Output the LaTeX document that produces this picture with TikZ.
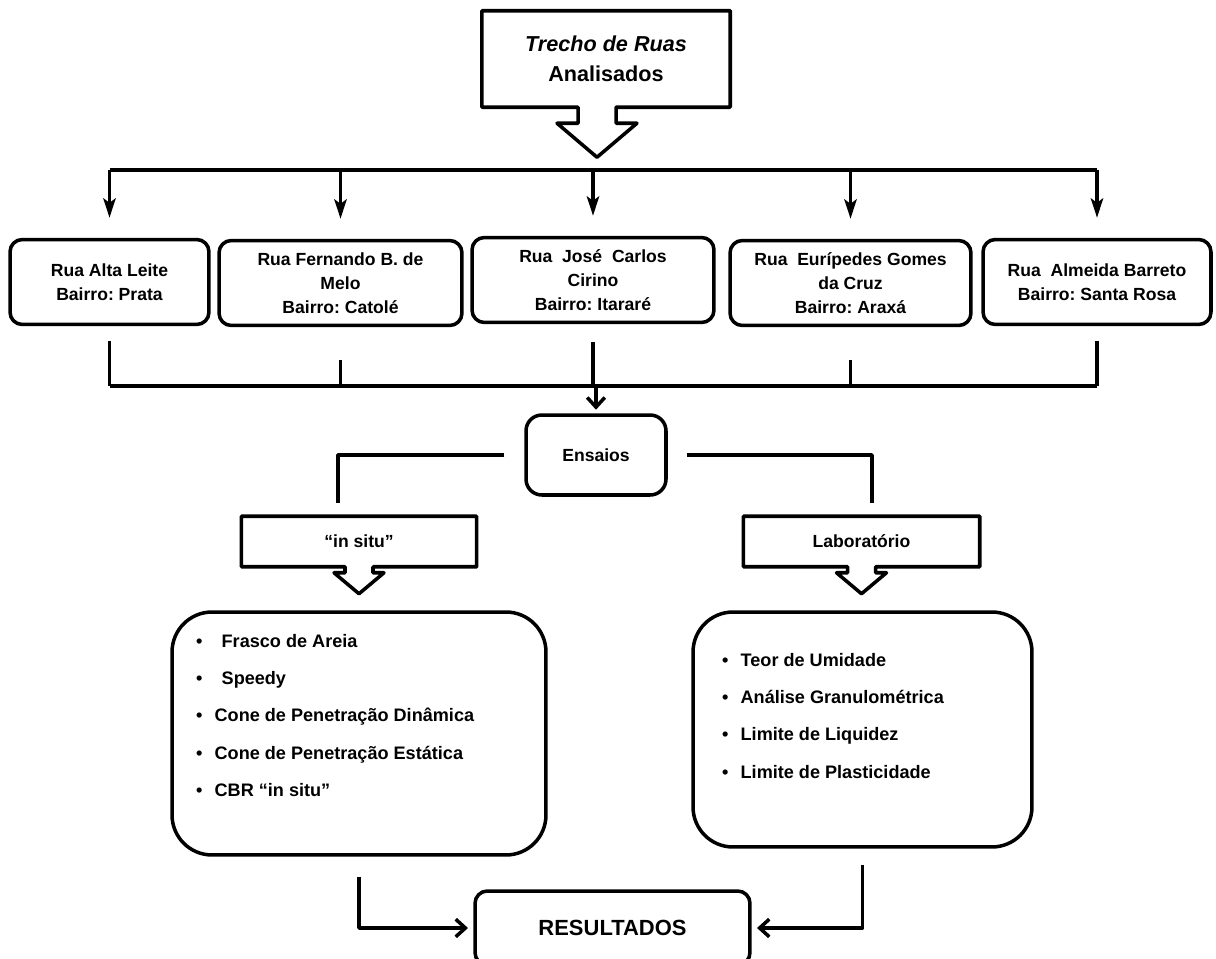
\documentclass[tikz,border=0pt]{standalone}
\usepackage{fontspec}
\setmainfont{Liberation Sans}
\frenchspacing
\usetikzlibrary{calc,arrows.meta}
\def\downcallout[#1](#2)(#3:#4:#5:#6:#7){\draw[#1] (#2.north west) -- (#2.north east) -- (#2.south east) -- ($(#2.south)+(#3+#4,0)$) -- ++(0,#6) -- ++(#5-#4,0) -- ++(-#5,#7) -- ++(-#5,-#7) -- ++(#5-#4,0) -- ++(0,-#6) -- (#2.south west) -- cycle;}
\tikzset{
	rua/.style={draw, rounded corners=7pt, align=center, inner sep=2pt, minimum height=1.7cm, font=\fontsize{10}{13.6}\selectfont\bfseries},
	caixa/.style={align=center, inner sep=2pt, font=\fontsize{10}{13.6}\selectfont\bfseries},
	lista/.style={draw, rounded corners=0.8cm},
	itens/.style={align=left, inner sep=0pt, font=\fontsize{10.3}{21.3}\selectfont\bfseries},
	seta/.style={-{Stealth[length=11pt,width=7pt,inset=2.5pt]}},
	farpa/.style={-{Straight Barb[length=5.5pt,width=10pt]}}
}

\begin{document}
\begin{tikzpicture}[x=0.02cm, y=-0.02cm, line width=2pt, line join=round]
		%%%%% START %%%%%
		\useasboundingbox (0,0) rectangle (1216,959);
		
		\node[caixa, minimum width=4.9cm, minimum height=1.86cm, font=\fontsize{12.3}{17}\selectfont\bfseries] (trecho) at (606,59) {\textit{Trecho de Ruas}\\Analisados};
		\downcallout[](trecho)(-9:19:40:16:34)
		
		\node[rua, minimum width=3.98cm] (alta) at (109.5,282) {Rua Alta Leite\\Bairro: Prata};
		\node[rua, minimum width=4.86cm] (fernando) at (340.5,283) {Rua Fernando B. de\\Melo\\Bairro: Catolé};
		\node[rua, minimum width=4.84cm] (jose) at (593,280) {Rua\ \ José\ \ Carlos\\Cirino\\Bairro: Itararé};
		\node[rua, minimum width=4.82cm] (euripedes) at (850.5,283) {Rua\ \ Eurípedes Gomes\\da Cruz\\Bairro: Araxá};
		\node[rua, minimum width=4.56cm] (almeida) at (1097,282) {Rua\ \ Almeida Barreto\\Bairro: Santa Rosa};
		
		\coordinate (barra) at (0,170);
		\draw (alta.north |- barra) -- (almeida.north |- barra);
		\foreach \r in {alta,fernando,jose,euripedes,almeida}
			\draw[seta, shorten >=0.4cm] (\r.north |- barra) -- (\r.north);
		
		\coordinate (juncao) at (0,386);
		\draw (alta.south |- juncao) -- (almeida.south |- juncao);
		\foreach \r/\s in {alta/0.3cm,fernando/0.66cm,jose/0.36cm,euripedes/0.66cm,almeida/0.3cm}
			\draw[shorten <=\s] (\r.south) -- (\r.south |- juncao);
		
		\node[rua, minimum width=2.8cm, minimum height=1.6cm, rounded corners=9pt] (ensaios) at (596,455) {Ensaios};
		\draw[farpa, shorten >=2pt] (ensaios.north |- juncao) -- (ensaios.north);
		
		\node[caixa, minimum width=4.64cm, minimum height=0.94cm] (insitu) at (359,541.5) {“in situ”};
		\downcallout[](insitu)(0:14:25:6:21)
		\node[caixa, minimum width=4.66cm, minimum height=0.94cm] (lab) at (861.5,541.5) {Laboratório};
		\downcallout[](lab)(0:14:25:6:21)
		
		\coordinate (ramoesq) at ($(insitu.north)+(-21,0)$);
		\coordinate (ramodir) at ($(lab.north)+(10.5,0)$);
		\draw[shorten <=0.4cm, shorten >=0.26cm] (ensaios.west) -| (ramoesq);
		\draw[shorten <=0.38cm, shorten >=0.26cm] (ensaios.east) -| (ramodir);
		
		\node[lista, minimum width=7.48cm, minimum height=4.86cm] (insitulista) at (359,733.5) {};
		\node[itens, anchor=north west] (insituitens) at ($(insitulista.north west)+(24,22)$)
			{•\hspace{11pt}Frasco de Areia\\ •\hspace{11pt}Speedy\\ •\hspace{7pt}Cone de Penetração Dinâmica\\ •\hspace{7pt}Cone de Penetração Estática\\ •\hspace{7pt}CBR “in situ”};
		
		\node[lista, minimum width=6.78cm, minimum height=4.7cm] (lablista) at (862.5,729.5) {};
		\node[itens, anchor=north west] (labitens) at ($(lablista.north west)+(29,41)$)
			{•\hspace{7pt}Teor de Umidade\\ •\hspace{7pt}Análise Granulométrica\\ •\hspace{7pt}Limite de Liquidez\\ •\hspace{7pt}Limite de Plasticidade};
		
		\node[rua, minimum width=5.5cm, minimum height=1.48cm, font=\fontsize{12.5}{14}\selectfont\bfseries] (resultados) at (612.5,928) {RESULTADOS};
		\draw[farpa, shorten <=0.4cm, shorten >=3pt] (insitulista.south) |- (resultados.west);
		\draw[farpa, shorten <=0.32cm, shorten >=3pt] (lablista.south) |- (resultados.east);
		
		%%%%% END %%%%%
\end{tikzpicture}
\end{document}
